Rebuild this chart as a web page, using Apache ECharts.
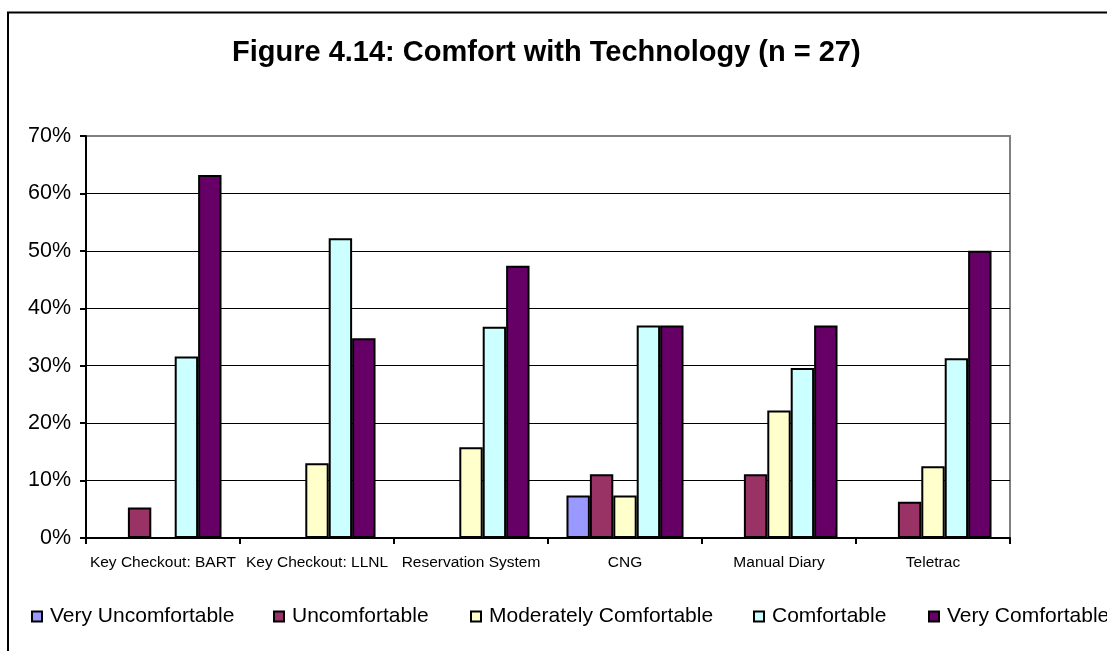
<!DOCTYPE html>
<html>
<head>
<meta charset="utf-8">
<style>
  html, body { margin: 0; padding: 0; background: #fff; }
  #chart { width: 1107px; height: 651px; }
</style>
<script src="https://cdn.jsdelivr.net/npm/echarts@6/dist/echarts.min.js"></script>
</head>
<body>
<div id="chart"></div>
<script>
// ---- Data (percent of respondents) ----
const categories = ['Key Checkout: BART', 'Key Checkout: LLNL', 'Reservation System', 'CNG', 'Manual Diary', 'Teletrac'];
const seriesNames = ['Very Uncomfortable', 'Uncomfortable', 'Moderately Comfortable', 'Comfortable', 'Very Comfortable'];
const veryUncomfortable     = [null, null, null, 7.4, null, null];
const uncomfortable         = [5.3, null, null, 11.1, 11.1, 6.3];
const moderatelyComfortable = [null, 13.0, 15.8, 7.4, 22.2, 12.5];
const comfortable           = [31.6, 52.2, 36.8, 37.0, 29.6, 31.3];
const veryComfortable       = [63.2, 34.8, 47.4, 37.0, 37.0, 50.0];
const yTicks = [0, 10, 20, 30, 40, 50, 60, 70];
const titleText = 'Figure 4.14: Comfort with Technology (n = 27)';

const seriesData = [veryUncomfortable, uncomfortable, moderatelyComfortable, comfortable, veryComfortable];
const colors = ['#9999FF', '#993366', '#FFFFCC', '#CCFFFF', '#660066'];
const legendLefts = [31, 273, 470, 753, 928];

const chart = echarts.init(document.getElementById('chart'), null, { renderer: 'canvas' });

const option = {
  animation: false,
  backgroundColor: '#ffffff',
  title: {
    text: titleText,
    left: 232,
    top: 38,
    padding: 0,
    textStyle: { fontFamily: 'Liberation Sans, Arial, sans-serif', fontSize: 29, fontWeight: 'bold', color: '#000' }
  },
  graphic: [{
    type: 'rect',
    shape: { x: 8, y: 12.5, width: 1200, height: 700 },
    style: { fill: 'none', stroke: '#000', lineWidth: 2 },
    silent: true,
    z: 100
  }],
  legend: seriesNames.map((name, i) => ({
    data: [name],
    left: legendLefts[i],
    top: 606,
    icon: 'rect',
    itemWidth: 10,
    itemHeight: 10,
    padding: 0,
    selectedMode: false,
    textStyle: { fontFamily: 'Liberation Sans, Arial, sans-serif', fontSize: 21, color: '#000', padding: [0, 0, 0, 3] },
    itemStyle: { borderColor: '#000', borderWidth: 2 }
  })),
  grid: {
    left: 86, top: 136, width: 924, height: 402,
    show: true, borderColor: '#808080', borderWidth: 2, backgroundColor: 'transparent',
    containLabel: false
  },
  xAxis: {
    type: 'category',
    data: categories,
    axisLine: { lineStyle: { color: '#000', width: 2 } },
    axisTick: { show: true, length: 6, lineStyle: { color: '#000', width: 2 } },
    axisLabel: { fontFamily: 'Liberation Sans, Arial, sans-serif', fontSize: 15.5, color: '#000', margin: 17, interval: 0 },
    splitLine: { show: false }
  },
  yAxis: {
    type: 'value',
    min: yTicks[0],
    max: yTicks[yTicks.length - 1],
    interval: yTicks[1] - yTicks[0],
    axisLine: { show: true, lineStyle: { color: '#000', width: 2 } },
    axisTick: { show: true, length: 6, lineStyle: { color: '#000', width: 2 } },
    axisLabel: { fontFamily: 'Liberation Sans, Arial, sans-serif', fontSize: 21.5, color: '#000', margin: 15, formatter: '{value}%' },
    splitLine: { show: true, showMaxLine: false, showMinLine: false, lineStyle: { color: '#000', width: 1 } }
  },
  series: seriesNames.map((name, i) => ({
    name: name,
    type: 'bar',
    data: seriesData[i],
    barGap: '0%',
    barCategoryGap: '24%',
    itemStyle: { color: colors[i], borderColor: '#000', borderWidth: 2 },
    emphasis: { disabled: true }
  }))
};

chart.setOption(option);
</script>
</body>
</html>
